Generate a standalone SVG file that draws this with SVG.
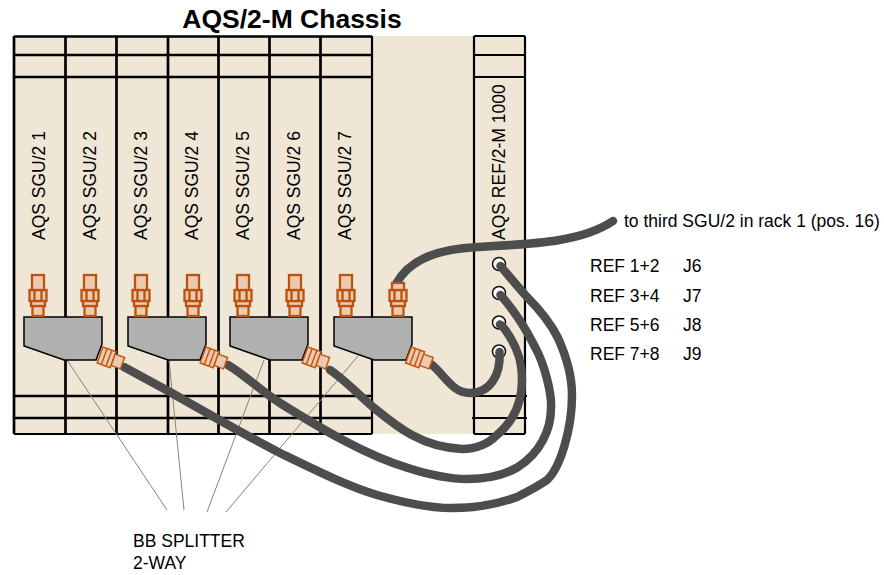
<svg xmlns="http://www.w3.org/2000/svg" width="884" height="575" viewBox="0 0 884 575">
<style>
text{font-family:"Liberation Sans",Arial,sans-serif;font-size:17.5px;fill:#000}
.title{font-size:26.500px;font-weight:bold}
.r{stroke:#000;stroke-width:2.700;fill:none}
.f{stroke:#000;stroke-width:2.200;fill:none}
.c{stroke:#4d4d4d;stroke-width:8.500;fill:none;stroke-linecap:round}
.l{stroke:#8a8378;stroke-width:1;fill:none}
.s{fill:#b0b0b0;stroke:#000;stroke-width:1.500}
.m{fill:#ecc9b0;stroke:#b85410;stroke-width:2.300}
.d{fill:#ecc9b0;stroke:#c05a10;stroke-width:1.500}
.j{fill:#fff;stroke:#111;stroke-width:1.500}
</style>
<defs>
<g id="sma"><rect class="m" x="-5.500" y="-10" width="11" height="10"/><rect class="m" x="-7" y="-15" width="14" height="5"/><rect class="m" x="-8.500" y="-26" width="17" height="11"/><path class="m" d="M-3.500-26V-15M3.500-26V-15"/><rect class="m" x="-6" y="-41" width="12" height="15"/></g>
<g id="smaS"><rect class="m" x="-5.500" y="-10" width="11" height="10"/><rect class="m" x="-7" y="-15" width="14" height="5"/><rect class="m" x="-8.500" y="-26" width="17" height="11"/><path class="m" d="M-3.500-26V-15M3.500-26V-15"/><rect class="m" x="-6" y="-33" width="12" height="7"/></g>
<g id="smaD"><rect class="d" x="-8.500" y="-14" width="17" height="14"/><path class="d" d="M-8.500-4.500H8.500M-8.500-9.500H8.500"/><rect class="d" x="-6" y="-24" width="12" height="10"/></g>
<path id="sp" class="s" d="M0,0H78V27L72,43H40L0,29Z"/>
</defs>
<rect x="14" y="36" width="511" height="398" fill="#f0e6d6"/>
<g id="chassis">
<path class="r" d="M14,36.500H372M14,55H372M13,77H372M14,396H372M13,418H372"/>
<path class="f" d="M14,434H372"/>
<path class="r" d="M14,36V434M65.500,36V434M116.500,36V434M168,36V434M218.500,36V434M269.500,36V434M320.500,36V434"/>
<path class="f" d="M372,36V434M474,36H525M474,55H525M474,77H525M474,396H527M472,418H527M474,434H525M474,36V434M525,36V434"/>
</g>
<text class="title" x="292" y="28" text-anchor="middle">AQS/2-M Chassis</text>
<g id="leaders">
<path class="l" d="M67,360L167,510M169,360L184,510M264,360L207,512M358,356L226,512"/>
</g>
<g id="card-labels">
<text transform="translate(45,240) rotate(-90)">AQS SGU/2 1</text>
<text transform="translate(96,240) rotate(-90)">AQS SGU/2 2</text>
<text transform="translate(147,240) rotate(-90)">AQS SGU/2 3</text>
<text transform="translate(198,240) rotate(-90)">AQS SGU/2 4</text>
<text transform="translate(249,240) rotate(-90)">AQS SGU/2 5</text>
<text transform="translate(300,240) rotate(-90)">AQS SGU/2 6</text>
<text transform="translate(351,240) rotate(-90)">AQS SGU/2 7</text>
<text transform="translate(505,240) rotate(-90)">AQS REF/2-M 1000</text>
</g>
<g id="jacks">
<circle class="j" cx="499" cy="264" r="6.500"/>
<circle class="j" cx="499" cy="293" r="6.500"/>
<circle class="j" cx="499" cy="322.500" r="6.500"/>
<circle class="j" cx="499" cy="351.500" r="6.500"/>
</g>
<g id="connectors">
<path class="c" d="M396,284C410,258 440,249 478,247C530,244 580,243 613,221"/>
<path class="c" d="M431,364C445,375 452,393 470,393C490,393 501,375 499.500,352"/>
<path class="c" d="M330,370C345,380 360,396 373,407C395,425 420,447 462,449C480,449 490,442 497,435C515,420 522,400 522,380C522,362 518,350 510,337C506,331 504,327 500,324.500"/>
<path class="c" d="M228,365C245,375 262,392 280,403C320,428 365,455 408,468C430,475 450,479 467,479C487,479 503,476 518,467C540,453 551,430 551,408C552,395 545,365 535,347C525,327 512,308 500.500,295"/>
<path class="c" d="M124,367L170,392C205,412 245,435 280,453C315,470 345,485 377,495C405,503 430,508 452,508C475,508 498,504 517,497C527,492 537,487 547,480C560,468 572,430 572,395C572,375 567,358 558,338C550,322 540,310 527,297C517,286 508,275 500.500,266"/>
</g>
<g id="splitter-1"><use href="#sp" x="24" y="317"/><use href="#sma" x="38" y="316"/><use href="#sma" x="90" y="316"/><use href="#smaD" transform="translate(100,355) rotate(110)"/></g>
<g id="splitter-2"><use href="#sp" x="128" y="317"/><use href="#sma" x="141" y="316"/><use href="#sma" x="193" y="316"/><use href="#smaD" transform="translate(203,355) rotate(110)"/></g>
<g id="splitter-3"><use href="#sp" x="230" y="317"/><use href="#sma" x="243" y="316"/><use href="#sma" x="295" y="316"/><use href="#smaD" transform="translate(305,355) rotate(110)"/></g>
<g id="splitter-4"><use href="#sp" x="334" y="317"/><use href="#sma" x="346" y="316"/><use href="#smaS" x="398" y="316"/><use href="#smaD" transform="translate(408.500,355) rotate(110)"/></g>
<g id="labels">
<text x="624" y="227">to third SGU/2 in rack 1 (pos. 16)</text>
<text x="590" y="272">REF 1+2</text><text x="683" y="272">J6</text>
<text x="590" y="302">REF 3+4</text><text x="683" y="302">J7</text>
<text x="590" y="331">REF 5+6</text><text x="683" y="331">J8</text>
<text x="590" y="360">REF 7+8</text><text x="683" y="360">J9</text>
<text x="133" y="547">BB SPLITTER</text>
<text x="133" y="569">2-WAY</text>
</g>
</svg>
